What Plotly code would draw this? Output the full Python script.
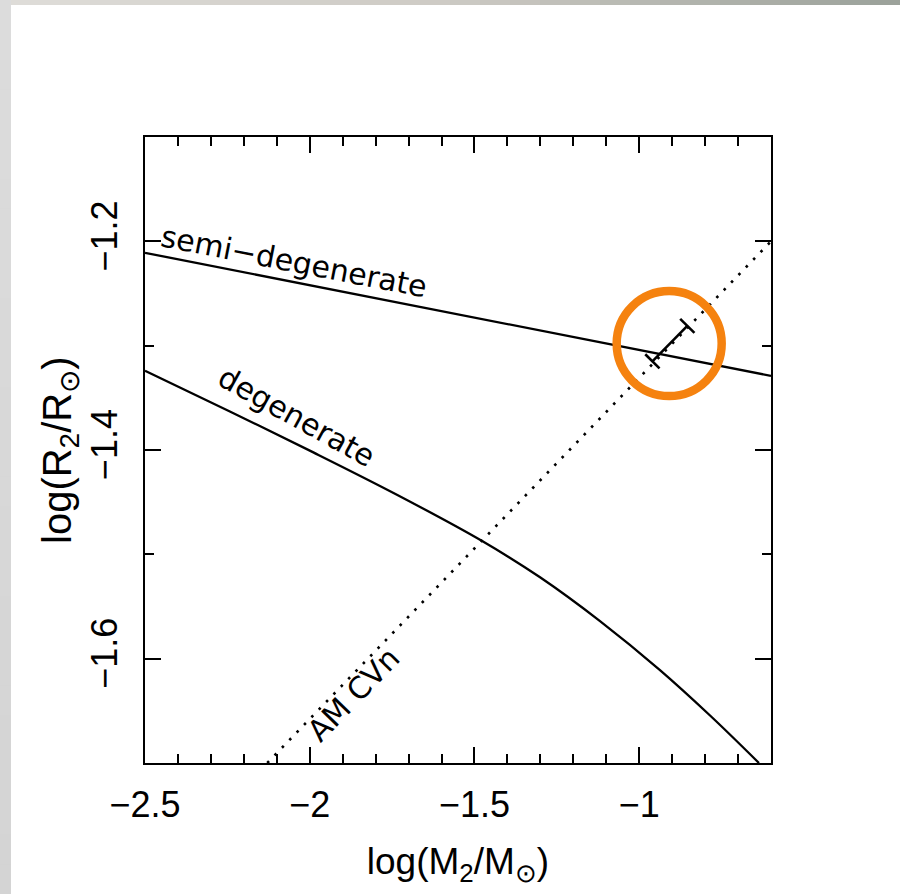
import plotly.graph_objects as go

# Mass-radius relations for the donor star (log M2/Msun vs log R2/Rsun)
semi_x = [-2.50, -2.00, -1.50, -1.00, -0.60]
semi_y = [-1.211, -1.2420, -1.2730, -1.3041, -1.329]

deg_x = [-2.500, -2.244, -1.989, -1.734, -1.478, -1.301, -1.119, -0.937, -0.785, -0.6365]
deg_y = [-1.3240, -1.3628, -1.4023, -1.4431, -1.4870, -1.5220, -1.5640, -1.6110, -1.6545, -1.7000]

# AM CVn period constraint (dotted line)
amcvn_x = [-2.129, -0.60]
amcvn_y = [-1.700, -1.200]

# Allowed donor range along the AM CVn line
bar_x = [-0.960, -0.854]
bar_y = [-1.315, -1.281]

# Highlight marker position
ring_x = -0.909
ring_y = -1.298

# Labels
label_text = ["semi\u2212degenerate", "degenerate", "AM CVn"]
label_x = [-2.048, -2.040, -1.868]
label_y = [-1.2195, -1.368, -1.634]
label_angle = [11, 29, -45.8]

x_title = "log(M<sub>2</sub>/M<sub>\u2299</sub>)"
y_title = "log(R<sub>2</sub>/R<sub>\u2299</sub>)"

x_range = [-2.5, -0.6]
y_range = [-1.7, -1.1]
x_ticks = [-2.5, -2.0, -1.5, -1.0]
x_ticktext = ["\u22122.5", "\u22122", "\u22121.5", "\u22121"]
y_ticks = [-1.6, -1.4, -1.2]
y_ticktext = ["\u22121.6", "\u22121.4", "\u22121.2"]

W, H = 900, 894
ML, MR, MT, MB = 145, 129, 137, 131
PW, PH = W - ML - MR, H - MT - MB

# data units per pixel
ux = (x_range[1] - x_range[0]) / PW
uy = (y_range[1] - y_range[0]) / PH

fig = go.Figure()

fig.add_trace(go.Scatter(x=semi_x, y=semi_y, mode="lines",
                         line=dict(color="black", width=2.3), hoverinfo="skip"))
fig.add_trace(go.Scatter(x=deg_x, y=deg_y, mode="lines", line_shape="spline",
                         line=dict(color="black", width=2.3, smoothing=1.0),
                         hoverinfo="skip"))
fig.add_trace(go.Scatter(x=amcvn_x, y=amcvn_y, mode="lines",
                         line=dict(color="black", width=2.6, dash="2.6px,8px"),
                         hoverinfo="skip"))

# bar with caps perpendicular to it (in screen space)
px = (bar_x[1] - bar_x[0]) / ux
py = (bar_y[1] - bar_y[0]) / uy
norm = (px ** 2 + py ** 2) ** 0.5
nx, ny = -py / norm, px / norm
half_cap = 10.0
cx, cy = [], []
for bx, by in zip(bar_x, bar_y):
    cx += [bx - nx * half_cap * ux, bx + nx * half_cap * ux, None]
    cy += [by - ny * half_cap * uy, by + ny * half_cap * uy, None]
fig.add_trace(go.Scatter(x=bar_x, y=bar_y, mode="lines",
                         line=dict(color="black", width=2.6), hoverinfo="skip"))
fig.add_trace(go.Scatter(x=cx, y=cy, mode="lines",
                         line=dict(color="black", width=2.6), hoverinfo="skip"))

for t, x, y, a in zip(label_text, label_x, label_y, label_angle):
    fig.add_annotation(x=x, y=y, text=t, textangle=a, showarrow=False,
                       font=dict(family="DejaVu Sans", size=30, color="black"))


def to_px(p):
    return (p - ML) / PW


def to_py(p):
    return (H - MB - p) / PH


# y-axis title, placed as rotated text left of the tick labels
fig.add_annotation(xref="paper", yref="paper", x=to_px(60), y=0.5, text=y_title,
                   textangle=-90, showarrow=False, xanchor="center", yanchor="middle",
                   font=dict(family="Liberation Sans", size=40, color="black"))

shapes = []
# orange ring
shapes.append(dict(type="circle", xref="x", yref="y", xsizemode="pixel", ysizemode="pixel",
                   xanchor=ring_x, yanchor=ring_y, x0=-52.5, x1=52.5, y0=-52.5, y1=52.5,
                   line=dict(color="#f5820f", width=8.5), fillcolor="rgba(0,0,0,0)"))


def mix(c1, c2, t):
    return "rgb(%d,%d,%d)" % tuple(round(a + (b - a) * t) for a, b in zip(c1, c2))


# page border strips (top and left)
n_seg = 30
c_left, c_mid, c_right = (222, 220, 216), (205, 202, 196), (156, 162, 155)
for i in range(n_seg):
    t = i / (n_seg - 1)
    col = mix(c_left, c_mid, t * 2) if t < 0.5 else mix(c_mid, c_right, (t - 0.5) * 2)
    shapes.append(dict(type="rect", xref="paper", yref="paper", layer="below",
                       x0=to_px(W * i / n_seg), x1=to_px(W * (i + 1) / n_seg + 1),
                       y0=to_py(5), y1=to_py(0), line=dict(width=0), fillcolor=col))
for i in range(n_seg):
    t = i / (n_seg - 1)
    col = mix((220, 220, 220), (212, 212, 212), t)
    shapes.append(dict(type="rect", xref="paper", yref="paper", layer="below",
                       x0=to_px(0), x1=to_px(11),
                       y0=to_py(H * (i + 1) / n_seg + 1), y1=to_py(H * i / n_seg),
                       line=dict(width=0), fillcolor=col))
fig.update_layout(shapes=shapes)

axis_common = dict(showline=True, linecolor="black", linewidth=2.2, mirror="ticks",
                   ticks="inside", tickcolor="black", tickwidth=2.2, ticklen=16,
                   showgrid=False, zeroline=False,
                   tickfont=dict(family="Liberation Sans", size=36, color="black"))

fig.update_xaxes(range=x_range, tickvals=x_ticks, ticktext=x_ticktext,
                 minor=dict(dtick=0.1, tick0=-2.5, ticks="inside", ticklen=8.5,
                            tickwidth=2.2, tickcolor="black", showgrid=False),
                 title_text=x_title, title_standoff=24,
                 title_font=dict(family="Liberation Sans", size=37, color="black"),
                 ticklabelstandoff=9, **axis_common)
fig.update_yaxes(range=y_range, tickvals=y_ticks, ticktext=y_ticktext, tickangle=-90,
                 minor=dict(dtick=0.1, tick0=-1.7, ticks="inside", ticklen=8.5,
                            tickwidth=2.2, tickcolor="black", showgrid=False),
                 ticklabelstandoff=12, **axis_common)

fig.update_layout(width=W, height=H, showlegend=False,
                  margin=dict(l=ML, r=MR, t=MT, b=MB),
                  paper_bgcolor="white", plot_bgcolor="white")

fig.write_html("out.html", config=dict(displayModeBar=False))
